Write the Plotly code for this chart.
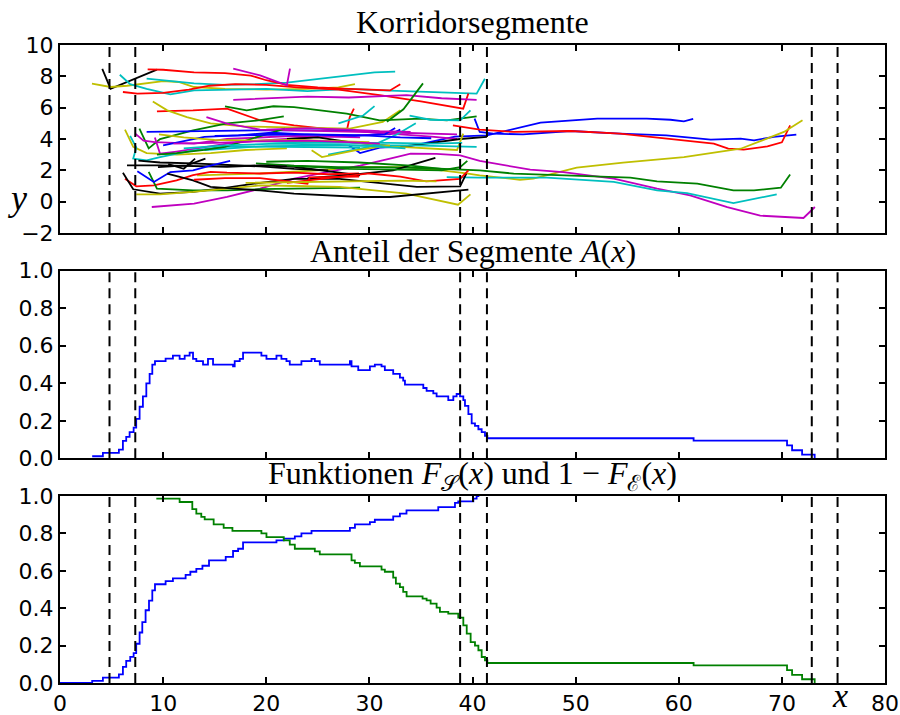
import plotly.graph_objects as go

# ---------------- data ----------------
COLORS = {"b": "#0000ff", "g": "#008000", "r": "#ff0000", "c": "#00bfbf",
          "m": "#bf00bf", "y": "#bfbf00", "k": "#000000"}

seg_colors = ["k", "y", "c", "c", "r", "r", "m", "m", "r", "y",
              "g", "g", "y", "b", "b", "b", "r", "y", "m", "g",
              "c", "m", "m", "c", "k", "k", "k", "k", "r", "k",
              "g", "y", "b", "k", "k", "y", "c", "m", "g", "g",
              "c", "c", "k", "r", "g", "y", "c", "b", "m", "c", "r",
              "y", "m", "c", "b", "g", "y"]

seg_x = [
    [4.1, 4.9, 9.4],
    [3.1, 4.9, 6.5, 8.4, 10.0, 11.5, 13.0, 16.0, 20.0, 24.0, 27.0, 28.6],
    [5.8, 6.8, 8.4, 10.7, 13.0, 16.0, 20.0, 24.0, 28.0, 31.3, 36.2, 40.4, 41.2],
    [8.4, 10.7, 13.0, 16.0, 19.0, 22.0, 24.0, 26.5, 28.5, 30.5, 32.5],
    [8.5, 10.0, 13.0, 16.0, 18.5, 20.0, 22.0, 25.0, 28.0, 30.0, 32.0, 33.0],
    [6.1, 7.5, 10.0, 12.5, 14.5, 17.0, 20.0, 23.0, 27.0, 31.0, 35.0, 39.1, 39.6],
    [16.8, 19.4, 22.0, 22.3],
    [16.8, 20.0, 24.0, 28.0, 33.6, 37.0, 40.4],
    [9.4, 12.9, 16.2, 19.4, 22.7, 27.8, 28.1, 28.5],
    [9.0, 10.4, 12.3, 14.6, 17.8, 22.7, 28.1, 31.3, 33.0],
    [16.0, 18.1, 20.7, 22.7, 27.8, 31.0, 34.9, 37.5, 40.4],
    [7.7, 8.6, 9.7, 12.9, 16.2, 19.4, 21.7],
    [6.3, 7.1, 8.4, 11.3, 14.6, 18.0, 22.0],
    [8.4, 13.0, 19.4, 25.9, 29.1, 32.0, 33.0],
    [28.0, 29.1, 31.0, 34.0, 38.3, 41.4, 46.6, 52.1, 56.9, 59.2, 60.5, 61.4],
    [40.2, 40.7, 42.0, 44.9, 49.5, 54.3, 58.8, 63.1, 66.0, 67.3, 69.2, 71.4],
    [38.1, 40.7, 44.0, 49.5, 54.3, 60.1, 63.4, 64.8, 66.3, 68.6, 70.0, 70.8],
    [13.3, 19.4, 25.0, 29.1, 33.6, 37.0, 39.4, 40.7, 44.6, 45.9, 50.1, 54.6, 60.5, 66.0, 70.2, 72.0],
    [8.9, 13.0, 16.2, 19.4, 22.7, 25.9, 29.1, 32.0, 34.0, 36.5, 38.8, 40.7, 44.0, 45.6, 48.8, 53.7,
     57.9, 61.1, 64.7, 67.9, 72.1, 73.2],
    [19.0, 22.7, 27.0, 31.0, 35.0, 38.8, 40.7, 44.0, 49.5, 55.3, 57.9, 61.8, 65.3, 67.3, 69.9, 70.8],
    [37.5, 40.7, 47.2, 53.7, 57.9, 60.8, 65.3, 69.5],
    [7.3, 8.1, 9.2, 13.0, 16.2, 19.4, 22.7, 29.1],
    [9.2, 9.7, 11.3, 16.2, 19.4, 24.0, 28.0, 32.0, 36.0, 38.5],
    [6.8, 7.4, 7.1, 8.4, 9.7, 12.9, 16.2, 19.4, 22.7, 29.1],
    [7.6, 9.7, 12.9, 16.2, 19.4, 22.7, 26.0],
    [6.5, 9.7, 16.2, 19.4, 22.7, 29.1],
    [10.5, 12.0, 13.1],
    [9.5, 12.3, 14.1],
    [6.3, 7.4, 9.1, 11.3, 12.9, 14.6, 16.2, 19.4, 22.7, 26.0, 29.0],
    [6.1, 7.1, 9.7, 12.9, 16.2, 19.4, 22.7, 27.1, 34.6, 38.8, 39.4],
    [8.6, 9.4, 12.9, 16.2, 19.4, 24.0, 29.1],
    [7.4, 9.7, 12.9, 16.2, 19.4, 22.7, 27.1, 33.6, 38.6, 39.8],
    [7.5, 9.1, 10.7, 12.9, 14.6, 16.5],
    [10.4, 12.9, 14.6, 19.4, 22.7, 29.1, 32.0, 35.2, 39.6],
    [22.0, 25.0, 28.1, 32.9, 35.5, 38.8, 41.4],
    [20.0, 24.0, 28.1, 33.0, 38.5, 39.1],
    [14.0, 20.0, 28.1, 34.0, 40.4],
    [14.2, 16.2, 19.4, 23.0, 29.1, 33.0, 38.5],
    [9.4, 11.3, 14.0, 16.0, 18.5, 21.8],
    [31.7, 33.3, 35.2],
    [33.9, 35.9, 38.8, 39.8],
    [26.0, 28.5, 30.0, 32.7, 34.5],
    [24.0, 28.0, 32.3, 36.4],
    [22.0, 26.0, 30.0, 33.0, 35.5, 38.8, 39.6],
    [22.0, 28.0, 33.0, 37.0, 38.8, 39.5],
    [24.4, 25.4, 28.6, 32.0],
    [27.0, 29.4, 30.5],
    [10.0, 14.0, 17.3, 20.5, 23.7, 28.6, 31.5, 32.5],
    [20.0, 24.0, 28.0, 31.0, 34.0],
    [17.0, 22.0, 27.0, 32.0, 36.0, 39.0],
    [13.0, 16.0, 19.4, 24.0, 24.2, 27.0, 29.0],
    [9.6, 12.0, 15.0, 19.0, 23.0, 27.0, 30.0],
    [11.0, 15.0, 19.0, 24.0, 28.0, 31.0],
    [12.0, 16.0, 21.0, 26.0, 30.0, 33.5],
    [15.0, 19.0, 24.0, 29.0, 33.0, 36.0],
    [20.0, 24.0, 29.0, 34.0, 37.0],
    [18.0, 23.0, 28.0, 33.0, 36.5],
]

seg_y = [
    [8.47, 7.21, 8.43],
    [7.53, 7.32, 7.40, 7.57, 7.70, 7.64, 7.32, 7.2, 7.15, 7.2, 7.3, 7.5],
    [8.1, 7.5, 7.2, 6.85, 7.1, 7.15, 7.2, 7.05, 7.2, 7.1, 7.0, 6.9, 7.85],
    [7.85, 7.7, 7.55, 7.45, 7.5, 7.6, 7.75, 7.95, 8.1, 8.25, 8.3],
    [8.45, 8.42, 8.25, 8.2, 8.05, 7.75, 7.45, 7.3, 7.2, 7.15, 7.1, 7.5],
    [7.0, 6.9, 6.95, 7.15, 7.4, 7.5, 7.45, 7.3, 7.15, 6.8, 6.4, 5.94, 6.9],
    [8.49, 8.06, 7.43, 8.49],
    [6.5, 6.6, 6.7, 6.65, 6.8, 6.6, 6.5],
    [5.77, 5.83, 5.94, 5.19, 4.87, 4.51, 5.4, 5.94],
    [6.4, 5.83, 5.4, 5.0, 4.8, 4.75, 4.66, 5.09, 5.83],
    [6.09, 5.83, 6.09, 6.04, 5.62, 5.19, 5.3, 5.19, 5.45],
    [4.66, 3.4, 4.0, 4.55, 5.0, 5.2, 5.45],
    [4.6, 3.5, 3.1, 3.0, 3.1, 3.3, 3.4],
    [4.45, 4.5, 4.55, 4.55, 4.5, 4.3, 4.6],
    [3.6, 3.1, 3.45, 3.55, 4.15, 4.23, 5.04, 5.3, 5.3, 5.23, 5.13, 5.28],
    [5.3, 4.45, 4.34, 4.3, 4.51, 4.34, 4.23, 3.96, 4.02, 3.91, 4.13, 4.28],
    [4.87, 4.6, 4.45, 4.51, 4.34, 3.91, 3.7, 3.38, 3.32, 3.53, 3.79, 4.87],
    [1.68, 1.8, 2.0, 2.2, 2.2, 2.0, 1.8, 1.68, 1.4, 1.47, 2.17, 2.49, 2.85, 3.38, 4.45, 5.19],
    [-0.34, -0.13, 0.3, 0.83, 1.47, 1.9, 2.3, 2.75, 3.06, 3.05, 2.96, 2.6, 2.21, 2.04, 1.89, 1.47,
     0.83, 0.4, -0.34, -0.89, -1.04, -0.34],
    [2.45, 2.3, 2.2, 2.2, 2.15, 2.05, 2.0, 1.79, 1.68, 1.53, 1.3, 1.15, 0.72, 0.72, 0.89, 1.74],
    [1.57, 1.53, 1.53, 1.26, 0.72, 0.55, -0.09, 0.47],
    [4.34, 3.9, 3.8, 3.7, 4.0, 4.1, 4.2, 4.1],
    [4.1, 3.06, 3.2, 3.7, 3.9, 4.1, 4.2, 4.35, 4.15, 4.0],
    [4.2, 3.45, 2.75, 2.64, 2.85, 3.28, 3.53, 3.5, 3.5, 3.45],
    [2.62, 2.5, 2.45, 2.35, 2.25, 2.1, 2.0],
    [2.32, 2.32, 2.23, 2.32, 2.23, 1.68],
    [2.4, 2.1, 2.75],
    [2.2, 2.32, 2.75],
    [1.47, 0.98, 1.04, 1.36, 1.7, 1.9, 1.85, 1.8, 1.85, 1.75, 1.8],
    [1.85, 0.79, 0.51, 0.62, 0.9, 1.2, 1.45, 1.45, 0.94, 0.98, 1.79],
    [1.9, 0.83, 0.72, 0.72, 0.8, 0.85, 0.9],
    [0.47, 0.47, 0.62, 0.83, 1.04, 1.0, 0.94, 0.51, -0.19, 0.47],
    [1.94, 1.26, 1.89, 2.0, 2.3, 2.6],
    [1.79, 1.36, 0.94, 0.72, 0.51, 0.3, 0.3, 0.51, 0.77],
    [4.0, 4.1, 3.8, 3.5, 3.7, 4.0, 4.13],
    [3.9, 3.85, 3.8, 3.5, 3.3, 4.34],
    [3.3, 3.55, 3.6, 3.6, 3.5],
    [5.4, 4.98, 4.6, 4.55, 4.5, 4.4, 4.3],
    [3.0, 3.1, 3.3, 3.5, 4.0, 4.66],
    [5.1, 5.9, 7.55],
    [5.5, 5.23, 5.19, 5.83],
    [3.0, 3.3, 3.5, 4.3, 5.0],
    [1.5, 1.7, 2.0, 2.8],
    [1.2, 1.5, 1.8, 1.6, 1.3, 1.45, 2.0],
    [2.3, 2.1, 2.05, 2.0, 2.2, 2.6],
    [3.28, 2.85, 3.28, 3.6],
    [5.0, 5.5, 6.1],
    [3.6, 4.13, 4.23, 4.4, 4.3, 4.2, 4.3, 4.7],
    [4.6, 4.7, 4.6, 4.5, 4.45],
    [3.9, 3.8, 3.75, 3.75, 3.7, 3.75],
    [1.4, 1.5, 1.5, 1.15, 1.55, 1.6, 1.6],
    [4.3, 4.1, 3.95, 3.9, 3.95, 3.85, 3.8],
    [3.7, 3.75, 3.85, 3.9, 3.8, 3.7],
    [3.4, 3.6, 3.7, 3.65, 3.55, 3.4],
    [4.2, 4.25, 4.3, 4.25, 4.1, 4.05],
    [2.55, 2.6, 2.5, 2.3, 2.1],
    [1.2, 1.25, 1.3, 1.35, 1.3],
]

# A(x): share of segments (step function)
A_x = [3.12, 4.16, 5.71, 6.10, 6.42, 6.75, 7.14, 7.39, 7.72, 8.04, 8.37, 8.69, 8.95, 9.21,
       10.24, 10.95, 11.60, 12.09, 12.57, 12.90, 13.22, 13.87, 14.35, 14.84, 16.78, 16.94,
       17.43, 17.75, 19.53, 20.02, 20.99, 21.47, 21.96, 22.28, 23.41, 24.39, 24.71, 25.19,
       28.11, 28.27, 28.92, 30.05, 30.53, 31.18, 31.50, 32.31, 32.96, 33.28, 33.45, 35.23,
       35.55, 36.20, 36.52, 37.65, 38.14, 38.46, 38.79, 39.11, 39.27, 39.60, 39.92, 40.24,
       40.57, 40.89, 41.21, 41.44, 61.44, 70.50, 70.99, 71.96, 73.18]
A_y = [0.011, 0.029, 0.046, 0.093, 0.114, 0.14, 0.164, 0.21, 0.275, 0.33, 0.40, 0.45, 0.50, 0.518,
       0.532, 0.548, 0.53, 0.548, 0.564, 0.53, 0.518, 0.50, 0.53, 0.50, 0.49, 0.518,
       0.53, 0.564, 0.548, 0.53, 0.548, 0.53, 0.518, 0.50, 0.518, 0.53, 0.518, 0.50,
       0.518, 0.49, 0.47, 0.49, 0.50, 0.49, 0.47, 0.45, 0.43, 0.414, 0.393, 0.375,
       0.36, 0.346, 0.33, 0.31, 0.33, 0.343, 0.33, 0.31, 0.28, 0.236, 0.186, 0.173,
       0.155, 0.14, 0.12, 0.107, 0.094, 0.069, 0.043, 0.02, 0.0]

# F_S(x) (blue)
FS_x = [0, 3.12, 4.16, 5.71, 6.10, 6.42, 6.81, 7.14, 7.39, 7.72, 7.98, 8.30, 8.63, 8.95, 9.21,
        10.24, 10.95, 12.18, 12.64, 13.22, 13.81, 14.45, 16.07, 16.78, 17.27, 17.75, 20.99,
        21.70, 22.77, 23.41, 24.39, 28.11, 28.60, 30.05, 30.53, 32.31, 32.96, 33.60, 36.68,
        38.30, 38.62, 40.08, 40.40, 40.66]
FS_y = [0, 0.011, 0.029, 0.046, 0.086, 0.118, 0.14, 0.16, 0.21, 0.27, 0.326, 0.389, 0.44, 0.495,
        0.528, 0.545, 0.56, 0.578, 0.595, 0.61, 0.627, 0.656, 0.674, 0.706, 0.718, 0.752, 0.763,
        0.772, 0.784, 0.80, 0.813, 0.83, 0.848, 0.86, 0.873, 0.891, 0.906, 0.923, 0.941,
        0.963, 0.971, 0.986, 1.0, 1.0]

# 1 - F_E(x) (green)
FE_x = [9.34, 11.6, 12.83, 13.22, 13.7, 14.03, 14.9, 15.87, 16.72, 19.53, 20.02, 21.70, 22.28,
        22.77, 24.71, 25.19, 28.27, 28.59, 29.08, 31.18, 31.50, 32.31, 32.57, 32.96, 33.28,
        33.61, 35.16, 35.55, 35.94, 36.52, 36.84, 37.65, 38.62, 39.11, 39.44, 39.82, 40.24,
        40.57, 40.89, 41.21, 41.44, 61.44, 70.50, 70.99, 71.96, 73.18]
FE_y = [0.986, 0.968, 0.93, 0.906, 0.888, 0.875, 0.848, 0.83, 0.813, 0.80, 0.78, 0.763, 0.74,
        0.718, 0.704, 0.688, 0.656, 0.642, 0.624, 0.606, 0.595, 0.563, 0.531, 0.513, 0.487,
        0.463, 0.451, 0.442, 0.424, 0.403, 0.38, 0.371, 0.35, 0.308, 0.264, 0.219, 0.2,
        0.175, 0.139, 0.121, 0.107, 0.094, 0.069, 0.043, 0.02, 0.0]

vlines = [4.8, 7.3, 38.8, 41.4, 72.9, 75.4]

x_ticks = [0, 10, 20, 30, 40, 50, 60, 70, 80]
top_ticks = [-2, 0, 2, 4, 6, 8, 10]
top_ticktext = ["\u22122", "0", "2", "4", "6", "8", "10"]
frac_ticks = [0.0, 0.2, 0.4, 0.6, 0.8, 1.0]
frac_ticktext = ["0.0", "0.2", "0.4", "0.6", "0.8", "1.0"]

# ---------------- figure ----------------
fig = go.Figure()

for col, xs, ys in zip(seg_colors, seg_x, seg_y):
    fig.add_trace(go.Scatter(x=xs, y=ys, mode="lines", xaxis="x3", yaxis="y3",
                             line=dict(color=COLORS[col], width=1.8),
                             showlegend=False, hoverinfo="skip"))

fig.add_trace(go.Scatter(x=A_x, y=A_y, mode="lines", line_shape="hv", xaxis="x2", yaxis="y2",
                         line=dict(color=COLORS["b"], width=1.8), showlegend=False))
fig.add_trace(go.Scatter(x=FS_x, y=FS_y, mode="lines", line_shape="hv", xaxis="x", yaxis="y",
                         line=dict(color=COLORS["b"], width=1.8), showlegend=False))
fig.add_trace(go.Scatter(x=FE_x, y=FE_y, mode="lines", line_shape="hv", xaxis="x", yaxis="y",
                         line=dict(color=COLORS["g"], width=1.8), showlegend=False))

tickfont = dict(family="DejaVu Sans", size=22, color="black")
common_x = dict(range=[0, 80], tickvals=x_ticks, ticks="inside", ticklen=6, tickwidth=1.5,
                tickcolor="black", showline=True, linecolor="black", linewidth=2,
                mirror="ticks", showgrid=False, zeroline=False, tickfont=tickfont,
                automargin=False)
common_y = dict(ticks="inside", ticklen=6, tickwidth=1.5, tickcolor="black", showline=True,
                linecolor="black", linewidth=2, mirror="ticks", showgrid=False,
                zeroline=False, tickfont=tickfont, automargin=False)

dom_bot = [0.0, 0.2931]
dom_mid = [0.3522, 0.6461]
dom_top = [0.7053, 1.0]

fig.update_layout(
    width=900, height=715,
    margin=dict(l=60, r=15, t=45, b=32, autoexpand=False),
    paper_bgcolor="white", plot_bgcolor="white",
    xaxis=dict(**common_x, anchor="y", ticktext=[str(v) for v in x_ticks]),
    yaxis=dict(**common_y, domain=dom_bot, range=[0, 1.0], tickvals=frac_ticks,
               ticktext=frac_ticktext, anchor="x"),
    xaxis2=dict(**common_x, anchor="y2", showticklabels=False),
    yaxis2=dict(**common_y, domain=dom_mid, range=[0, 1.0], tickvals=frac_ticks,
                ticktext=frac_ticktext, anchor="x2"),
    xaxis3=dict(**common_x, anchor="y3", showticklabels=False),
    yaxis3=dict(**common_y, domain=dom_top, range=[-2, 10], tickvals=top_ticks,
                ticktext=top_ticktext, anchor="x3"),
)

shapes = []
for xr, yr in (("x", "y"), ("x2", "y2"), ("x3", "y3")):
    for v in vlines:
        shapes.append(dict(type="line", xref=xr, yref=yr + " domain", x0=v, x1=v, y0=0, y1=1,
                           line=dict(color="black", width=2, dash="10px,6px"), layer="above"))
fig.update_layout(shapes=shapes)

serif = "Liberation Serif"
title_font = dict(family=serif, size=32, color="black")
anns = [
    dict(text="Korridorsegmente", x=0.5, y=dom_top[1], yanchor="bottom", yshift=3),
    dict(text="Anteil der Segmente <i>A</i>(<i>x</i>)", x=0.5, y=dom_mid[1], yanchor="bottom", yshift=0),
    dict(text="Funktionen <i>F</i><sub>\U0001D4AE</sub>(<i>x</i>) und 1 \u2212 <i>F</i><sub>\u2130</sub>(<i>x</i>)",
         x=0.5, y=dom_bot[1], yanchor="bottom", yshift=-2),
]
for a in anns:
    fig.add_annotation(xref="paper", yref="paper", showarrow=False, font=title_font,
                       xanchor="center", **a)

fig.add_annotation(text="<i>y</i>", xref="paper", yref="paper", x=-0.051, y=0.76,
                   showarrow=False, font=dict(family=serif, size=36, color="black"),
                   xanchor="center", yanchor="middle")
fig.add_annotation(text="<i>x</i>", xref="paper", yref="paper", x=0.945, y=-0.0506,
                   showarrow=False, font=dict(family=serif, size=34, color="black"),
                   xanchor="center", yanchor="bottom", borderpad=0)

fig.write_html("out.html")
